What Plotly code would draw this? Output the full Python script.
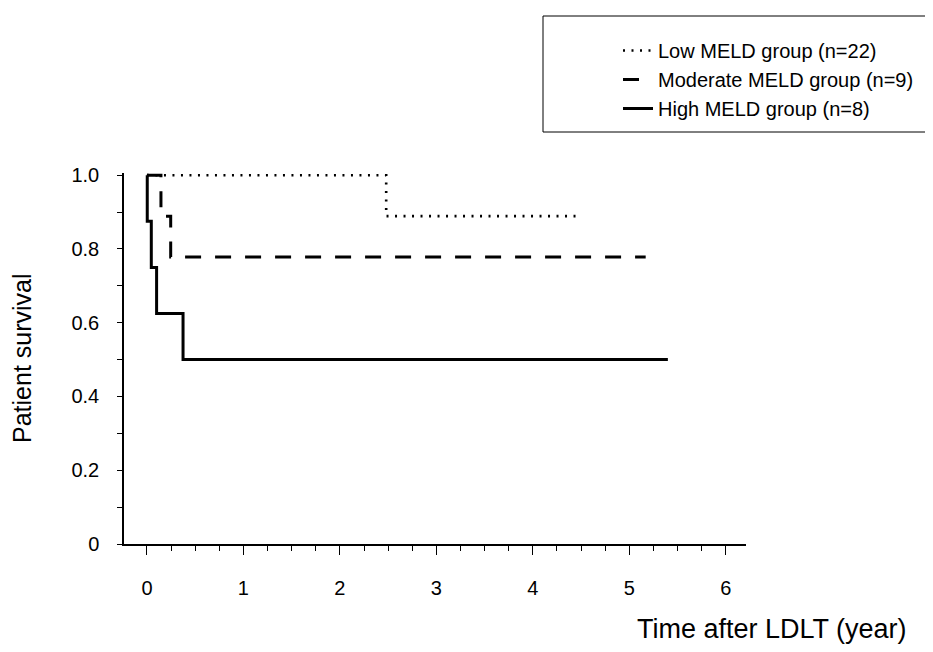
import plotly.graph_objects as go

# Kaplan-Meier step data (years, survival proportion)
low_t = [0.0, 2.48, 4.47]
low_s = [1.0, 0.889, 0.889]
mod_t = [0.0, 0.145, 0.246, 5.17]
mod_s = [1.0, 0.889, 0.778, 0.778]
high_t = [0.0, 0.003, 0.045, 0.10, 0.374, 5.40]
high_s = [1.0, 0.875, 0.75, 0.625, 0.5, 0.5]

names = ["Low MELD group (n=22)", "Moderate MELD group (n=9)", "High MELD group (n=8)"]
y_tickvals = [0, 0.2, 0.4, 0.6, 0.8, 1.0]
y_ticktext = ["0", "0.2", "0.4", "0.6", "0.8", "1.0"]
x_tickvals = [0, 1, 2, 3, 4, 5, 6]

FONT = "Arial, Liberation Sans, sans-serif"

L, R, T, B = 116, 738, 165, 536   # plot area in pixels
W, H = R - L, B - T

fig = go.Figure()
fig.add_trace(go.Scatter(x=low_t, y=low_s, mode="lines", line_shape="hv", name=names[0],
                         line=dict(color="black", width=2.6, dash="2px,6.5px")))
fig.add_trace(go.Scatter(x=mod_t, y=mod_s, mode="lines", line_shape="hv", name=names[1],
                         line=dict(color="black", width=3, dash="16px,14px")))
fig.add_trace(go.Scatter(x=high_t, y=high_s, mode="lines", line_shape="hv", name=names[2],
                         line=dict(color="black", width=3)))

fig.update_layout(
    width=933, height=652,
    margin=dict(l=L, r=933 - R, t=T, b=652 - B, autoexpand=False),
    paper_bgcolor="white", plot_bgcolor="white",
    font=dict(family=FONT, color="black", size=20),
    showlegend=True,
    legend=dict(
        xref="container", yref="container",
        x=610 / 933, y=1 - 23 / 652, xanchor="left", yanchor="top",
        borderwidth=0, bgcolor="rgba(0,0,0,0)",
        font=dict(size=20, family=FONT),
        tracegroupgap=0,
    ),
    shapes=[dict(
        type="rect", xref="paper", yref="paper",
        x0=(535 - L) / W, x1=(933 - L) / W,
        y0=(B - 124) / H, y1=(B - 8) / H,
        line=dict(color="black", width=1), fillcolor="rgba(0,0,0,0)", layer="below",
    )],
    xaxis=dict(
        range=[-0.238, 6.21], showgrid=False, zeroline=False,
        showline=True, linecolor="black", linewidth=1.5,
        tickvals=x_tickvals, ticks="outside", ticklen=9, tickwidth=1.2, tickcolor="black",
        tickfont=dict(size=20), ticklabelstandoff=16,
        minor=dict(dtick=0.25, ticks="outside", ticklen=5, tickwidth=1, tickcolor="black"),
    ),
    yaxis=dict(
        range=[0, 1.006], showgrid=False, zeroline=False,
        showline=True, linecolor="black", linewidth=1.5,
        tickvals=y_tickvals, ticktext=y_ticktext,
        ticks="outside", ticklen=5, tickwidth=1.2, tickcolor="black",
        tickfont=dict(size=20), ticklabelstandoff=14,
        minor=dict(dtick=0.1, ticks="outside", ticklen=5, tickwidth=1, tickcolor="black"),
    ),
    annotations=[
        dict(text="Time after LDLT (year)", xref="paper", yref="paper",
             x=(901 - L) / W, y=(B - 621) / H, xanchor="right", yanchor="middle",
             showarrow=False, font=dict(size=27, family=FONT)),
        dict(text="Patient survival", xref="paper", yref="paper", textangle=-90,
             x=(14 - L) / W, y=(B - 350) / H, xanchor="center", yanchor="middle",
             showarrow=False, font=dict(size=25, family=FONT)),
    ],
)

fig.write_html("out.html")
